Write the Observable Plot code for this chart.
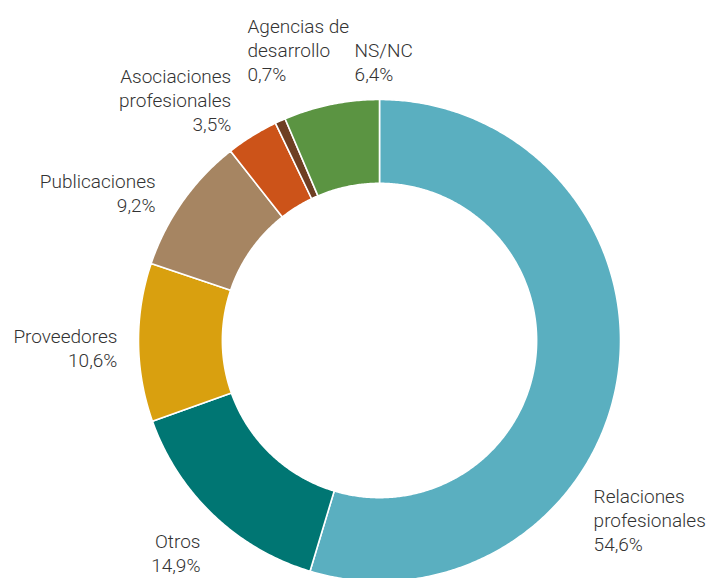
<!DOCTYPE html>
<html>
<head>
<meta charset="utf-8">
<script src="https://cdn.jsdelivr.net/npm/d3@7"></script>
<script src="https://cdn.jsdelivr.net/npm/@observablehq/plot@0.6"></script>
<style>
  html, body { margin: 0; padding: 0; background: #fff; }
  #chart svg { display: block; }
</style>
</head>
<body>
<div id="chart"></div>
<script>
// ---- data ----
const categories = [
  "Relaciones\nprofesionales",
  "Otros",
  "Proveedores",
  "Publicaciones",
  "Asociaciones\nprofesionales",
  "Agencias de\ndesarrollo",
  "NS/NC"
];
const values = [54.6, 14.9, 10.6, 9.2, 3.5, 0.7, 6.4];
const colors = ["#5AAFC0", "#007673", "#D9A00F", "#A68562", "#CC5319", "#6E3F23", "#5B9442"];

// ---- label layout (polar: degrees clockwise from top, radius in units of outer radius) ----
const labelAngle  = [129.9, 220.2, 268.5, 303.5, 328.4, 335.6, 354.9];
const labelRadius = [1.158, 1.151, 1.088, 1.114, 1.174, 1.326, 1.162];
const labelAnchor = ["start", "end", "end", "end", "end", "start", "start"];

const W = 710, H = 578;
const cx = 379, cy = 340, R = 241, innerRatio = 0.652;

const pie = d3.pie().sort(null).value(d => d)(values);

// polygon points for each slice, in units of the outer radius
const pts = [];
categories.forEach((c, i) => {
  const a0 = pie[i].startAngle, a1 = pie[i].endAngle;
  const n = Math.max(4, Math.ceil((a1 - a0) / (Math.PI / 360)));
  for (let k = 0; k <= n; k++) {
    const a = a0 + (a1 - a0) * k / n;
    pts.push({cat: c, x: Math.sin(a), y: Math.cos(a)});
  }
  for (let k = n; k >= 0; k--) {
    const a = a0 + (a1 - a0) * k / n;
    pts.push({cat: c, x: innerRatio * Math.sin(a), y: innerRatio * Math.cos(a)});
  }
});

const fmt = v => v.toFixed(1).replace(".", ",") + "%";
const labels = categories.map((c, i) => {
  const a = labelAngle[i] * Math.PI / 180;
  return {
    text: c + "\n" + fmt(values[i]),
    x: labelRadius[i] * Math.sin(a),
    y: labelRadius[i] * Math.cos(a),
    anchor: labelAnchor[i]
  };
});

const textStyle = {
  fontFamily: "Roboto, 'Liberation Sans', sans-serif",
  fontSize: 19,
  fontWeight: 300,
  fill: "#333333",
  lineHeight: 1.26,
  lineAnchor: "middle"
};

const chart = Plot.plot({
  width: W,
  height: H,
  margin: 0,
  style: {background: "#fff", overflow: "visible"},
  x: {domain: [-cx / R, (W - cx) / R], axis: null},
  y: {domain: [(cy - H) / R, cy / R], axis: null},
  color: {domain: categories, range: colors},
  marks: [
    Plot.line(pts, {
      x: "x", y: "y", z: "cat", fill: "cat",
      stroke: "white", strokeWidth: 1.6, curve: "linear-closed"
    }),
    Plot.text(labels.filter(d => d.anchor === "start"), {
      x: "x", y: "y", text: "text", textAnchor: "start", ...textStyle
    }),
    Plot.text(labels.filter(d => d.anchor === "end"), {
      x: "x", y: "y", text: "text", textAnchor: "end", ...textStyle
    })
  ]
});
document.getElementById("chart").appendChild(chart);
</script>
</body>
</html>
